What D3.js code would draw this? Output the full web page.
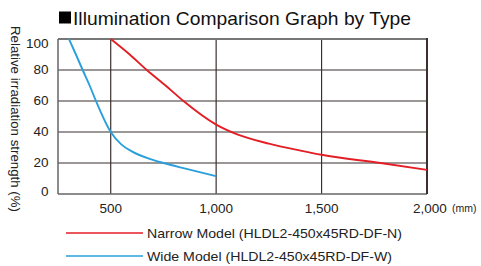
<!DOCTYPE html>
<html>
<head>
<meta charset="utf-8">
<script src="https://cdn.jsdelivr.net/npm/d3@7"></script>
<style>
  body { margin: 0; background: #fff; }
  text { font-family: Arial, "Liberation Sans", sans-serif; }
</style>
</head>
<body>
<div id="chart"></div>
<script>
const xTicks = [500, 1000, 1500, 2000];
const yTicks = [0, 20, 40, 60, 80, 100];

// Narrow model (red): distance mm, relative strength %
const narrowX = [500, 590, 671, 760, 845, 1000, 1100, 1250, 1400, 1500, 1780, 2000];
const narrowY = [100, 90, 80, 70, 60, 44.8, 38.5, 32.5, 28, 25.3, 20, 15.6];

// Wide model (blue)
const wideX = [302, 335, 367, 400, 430, 500, 550, 600, 700, 750, 850, 1000];
const wideY = [100, 90, 80, 70, 60, 40, 32, 27.5, 22, 20, 16.5, 11.5];

const seriesNames = ["Narrow Model (HLDL2-450x45RD-DF-N)", "Wide Model (HLDL2-450x45RD-DF-W)"];
const seriesColors = ["#e31e24", "#2a9fdb"];
const legendLengths = [255, 245];

const width = 481, height = 266;
const plot = { left: 58, right: 427, top: 39, bottom: 194 };

const svg = d3.select("#chart").append("svg")
    .attr("width", width)
    .attr("height", height);

const x = d3.scaleLinear().domain([250, 2000]).range([plot.left, plot.right]);
const y = d3.scaleLinear().domain([0, 100]).range([plot.bottom, plot.top]);

// Title
svg.append("rect")
    .attr("x", 59).attr("y", 11.5)
    .attr("width", 12).attr("height", 12)
    .attr("fill", "#000");
svg.append("text")
    .attr("x", 73).attr("y", 24.5)
    .attr("font-size", "19px")
    .attr("fill", "#111")
    .attr("textLength", 338)
    .attr("lengthAdjust", "spacingAndGlyphs")
    .text("Illumination Comparison Graph by Type");

// Grid lines
svg.append("g").selectAll("line")
    .data(yTicks.filter(d => d > 0 && d < 100))
    .enter().append("line")
    .attr("x1", plot.left).attr("x2", plot.right)
    .attr("y1", d => y(d)).attr("y2", d => y(d))
    .attr("stroke", "#3a3030").attr("stroke-width", 1.2);

svg.append("g").selectAll("line")
    .data(xTicks.filter(d => d < 2000))
    .enter().append("line")
    .attr("x1", d => x(d)).attr("x2", d => x(d))
    .attr("y1", plot.top).attr("y2", plot.bottom)
    .attr("stroke", "#3a3030").attr("stroke-width", 1.2);

// Frame
svg.append("line")
    .attr("x1", plot.left).attr("x2", plot.right)
    .attr("y1", plot.top).attr("y2", plot.top)
    .attr("stroke", "#777").attr("stroke-width", 2);
svg.append("line")
    .attr("x1", plot.left).attr("x2", plot.right)
    .attr("y1", plot.bottom).attr("y2", plot.bottom)
    .attr("stroke", "#666").attr("stroke-width", 1.5);
svg.append("line")
    .attr("x1", plot.left).attr("x2", plot.left)
    .attr("y1", plot.top).attr("y2", plot.bottom)
    .attr("stroke", "#666").attr("stroke-width", 1.5);
svg.append("line")
    .attr("x1", plot.right).attr("x2", plot.right)
    .attr("y1", plot.top - 1).attr("y2", plot.bottom)
    .attr("stroke", "#3a3030").attr("stroke-width", 2);

// Y tick labels (top and bottom labels kept inside the frame height)
svg.append("g").selectAll("text")
    .data(yTicks)
    .enter().append("text")
    .attr("x", 48.5)
    .attr("y", d => Math.min(Math.max(y(d) + 4, 47.5), 196))
    .attr("text-anchor", "end")
    .attr("font-size", "13.5px")
    .attr("fill", "#222")
    .text(d => d);

// X tick labels
svg.append("g").selectAll("text")
    .data(xTicks)
    .enter().append("text")
    .attr("x", d => x(d) + (d === 2000 ? 3 : 0))
    .attr("y", 213)
    .attr("text-anchor", "middle")
    .attr("font-size", "13.5px")
    .attr("fill", "#222")
    .text(d => d3.format(",")(d));

svg.append("text")
    .attr("x", 452).attr("y", 212)
    .attr("text-anchor", "start")
    .attr("font-size", "10.5px")
    .attr("fill", "#222")
    .text("(mm)");

// Y axis title (reads top to bottom)
svg.append("text")
    .attr("transform", "translate(11,119) rotate(90)")
    .attr("text-anchor", "middle")
    .attr("font-size", "13px")
    .attr("fill", "#222")
    .attr("textLength", 186)
    .attr("lengthAdjust", "spacingAndGlyphs")
    .text("Relative irradiation strength (%)");

// Curves
const line = d3.line()
    .x(d => x(d[0]))
    .y(d => y(d[1]))
    .curve(d3.curveMonotoneX);

const series = [
    d3.zip(narrowX, narrowY),
    d3.zip(wideX, wideY)
];

series.forEach((pts, i) => {
    svg.append("path")
        .datum(pts)
        .attr("d", line)
        .attr("fill", "none")
        .attr("stroke", seriesColors[i])
        .attr("stroke-width", 1.9);
});

// Legend
seriesNames.forEach((name, i) => {
    const ly = 233 + i * 23;
    svg.append("line")
        .attr("x1", 66).attr("x2", 143)
        .attr("y1", ly).attr("y2", ly)
        .attr("stroke", seriesColors[i])
        .attr("stroke-width", 1.5);
    svg.append("text")
        .attr("x", 147).attr("y", ly + 5)
        .attr("font-size", "13px")
        .attr("fill", "#222")
        .attr("textLength", legendLengths[i])
        .attr("lengthAdjust", "spacingAndGlyphs")
        .text(name);
});
</script>
</body>
</html>
